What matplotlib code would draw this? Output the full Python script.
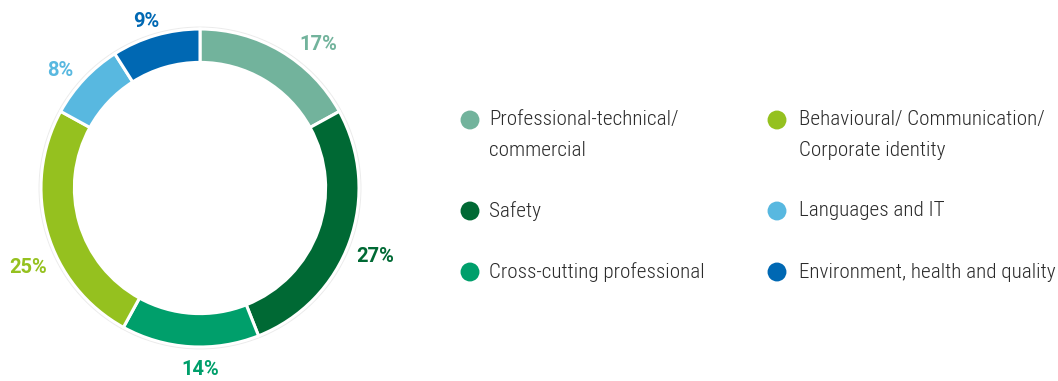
import numpy as np
import matplotlib
matplotlib.use("Agg")
import matplotlib.pyplot as plt
from matplotlib import font_manager

# 数据
categories = [
    "Professional-technical/\ncommercial",
    "Safety",
    "Cross-cutting professional",
    "Behavioural/ Communication/\nCorporate identity",
    "Languages and IT",
    "Environment, health and quality",
]
shares = [17, 27, 14, 25, 8, 9]
colors = ["#72b39c", "#006934", "#009f6b", "#95c11f", "#58b8e0", "#0068b3"]

W, H = 1058, 381

# 字体：优先用窄体
names = {f.name for f in font_manager.fontManager.ttflist}
narrow = next((n for n in ["Roboto Condensed", "Liberation Sans Narrow", "Roboto"] if n in names), "DejaVu Sans")
bold_font = "Roboto" if "Roboto" in names else "DejaVu Sans"

fig = plt.figure(figsize=(W / 100, H / 100), dpi=100)
fig.patch.set_facecolor("white")

# 环形图
cx, cy, R = 200, 188, 159
pad = 1.3
ax = fig.add_axes([(cx - R * pad) / W, 1 - (cy + R * pad) / H, 2 * R * pad / W, 2 * R * pad / H])
ax.axis("off")

ring = plt.Circle((0, 0), 1.0, fill=False, edgecolor="#ebebeb", linewidth=3.5, zorder=0)
ax.add_patch(ring)
wedges, _ = ax.pie(shares, colors=colors, startangle=90, counterclock=False, radius=1.0,
                   wedgeprops=dict(width=0.21, edgecolor="white", linewidth=2.2))
for w in wedges:
    w.set_zorder(2)
ax.set_xlim(-pad, pad)
ax.set_ylim(-pad, pad)
ax.set_aspect("equal")

# 百分比标签（按原图微调角度与半径）
nudge_deg = [-8.9, -1.7, 3.6, 8.5, 3.3, 1.8]
label_r = [1.166, 1.183, 1.14, 1.19, 1.148, 1.104]
cum = np.cumsum([0] + shares[:-1])
for v, c, start, dd, r in zip(shares, colors, cum, nudge_deg, label_r):
    ang = np.deg2rad(90 - (start + v / 2) * 3.6 + dd)
    ax.text(r * np.cos(ang), r * np.sin(ang), f"{v}%", ha="center", va="center",
            color=c, fontsize=14.5, fontweight="bold", family=bold_font, clip_on=False)

# 图例（像素坐标）
lg = fig.add_axes([0, 0, 1, 1])
lg.set_xlim(0, W)
lg.set_ylim(H, 0)
lg.axis("off")

dot_x = [470, 777]
text_x = [489, 799]
row_start = 120
line_h = 30
for col in range(2):
    y = row_start
    for k in range(3):
        i = col * 3 + k
        lg.scatter(dot_x[col], y, s=185, color=colors[i], edgecolors="none")
        lines = categories[i].split("\n")
        for j, line in enumerate(lines):
            lg.text(text_x[col], y + j * line_h, line, ha="left", va="center",
                    fontsize=15.2, color="#2b2b2b", family=narrow, fontweight="light")
        y += line_h * len(lines) + 31

fig.savefig("out.png", dpi=100, facecolor="white")
